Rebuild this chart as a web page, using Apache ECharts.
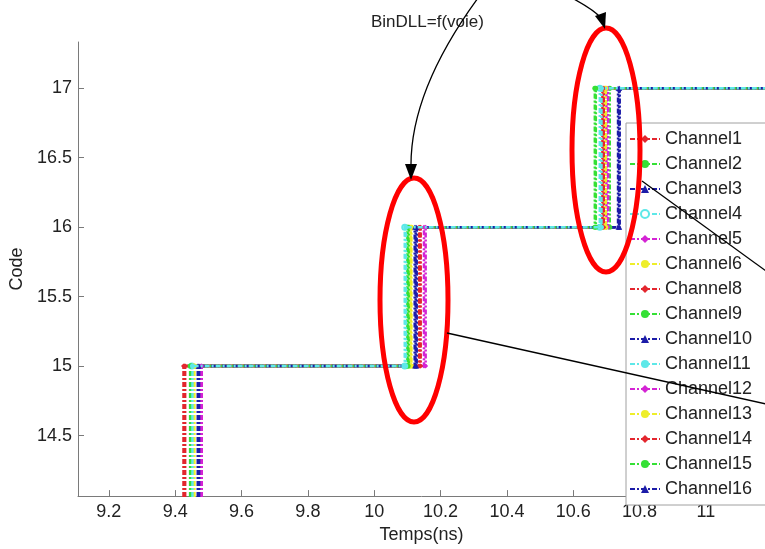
<!DOCTYPE html>
<html>
<head>
<meta charset="utf-8">
<script src="https://cdn.jsdelivr.net/npm/echarts@6/dist/echarts.min.js"></script>
<style>html,body{margin:0;padding:0;background:#fff;}#c{width:765px;height:549px;}</style>
</head>
<body>
<div id="c"></div>
<script>
// ---- data ----
const channels = ['Channel1','Channel2','Channel3','Channel4','Channel5','Channel6','Channel8','Channel9','Channel10','Channel11','Channel12','Channel13','Channel14','Channel15','Channel16'];
const colors   = ['#e3262e','#35e035','#1c1ca8','#5ee8e8','#d424d4','#eeee2a','#e3262e','#35e035','#1c1ca8','#5ee8e8','#d424d4','#eeee2a','#e3262e','#35e035','#1c1ca8'];
const symbols  = ['diamond','circle','triangle','emptyCircle','diamond','circle','diamond','circle','triangle','circle','diamond','circle','diamond','circle','triangle'];
// times (ns) at which each channel's code reaches 15, 16 and 17
const rise15 = [9.425, 9.445, 9.470, 9.450, 9.480, 9.455, 9.430, 9.448, 9.468, 9.452, 9.478, 9.458, 9.428, 9.446, 9.472];
const rise16 = [10.135, 10.105, 10.125, 10.092, 10.150, 10.112, 10.140, 10.100, 10.128, 10.095, 10.155, 10.110, 10.138, 10.102, 10.122];
const rise17 = [10.690, 10.665, 10.735, 10.680, 10.700, 10.695, 10.688, 10.710, 10.738, 10.685, 10.705, 10.698, 10.692, 10.668, 10.740];
const codeStart = 13.9;   // below the visible range
const codes = [15, 16, 17];
const timeEnd = 11.2;
const xTicks = [9.2, 9.4, 9.6, 9.8, 10, 10.2, 10.4, 10.6, 10.8, 11];
const yTicks = [14.5, 15, 15.5, 16, 16.5, 17];

const chart = echarts.init(document.getElementById('c'), null, {renderer: 'canvas'});
const font = 'Liberation Sans, Arial, sans-serif';

const series = channels.map((name, i) => ({
  name: name,
  type: 'line',
  z: name === 'Channel11' ? 4 : 2,
  data: [
    [rise15[i], codeStart], [rise15[i], codes[0]],
    [rise16[i], codes[0]], [rise16[i], codes[1]],
    [rise17[i], codes[1]], [rise17[i], codes[2]],
    [timeEnd, codes[2]]
  ],
  symbol: symbols[i],
  symbolSize: 5,
  showSymbol: true,
  clip: true,
  itemStyle: {color: colors[i]},
  lineStyle: {color: colors[i], width: 2.5, type: [5, 2, 2, 2]},
  emphasis: {disabled: true},
  animation: false
}));

chart.setOption({
  animation: false,
  backgroundColor: '#fff',
  title: {
    text: 'BinDLL=f(voie)',
    left: 366, top: 9,
    textStyle: {fontFamily: font, fontSize: 17, fontWeight: 'normal', color: '#222'}
  },
  grid: {left: 78, top: 42, right: 0, bottom: 50, containLabel: false},
  xAxis: {
    type: 'value', min: 9.107, max: 11.178,
    name: 'Temps(ns)', nameLocation: 'middle', nameGap: 27,
    nameTextStyle: {fontFamily: font, fontSize: 18, color: '#222'},
    axisLine: {show: true, onZero: false, lineStyle: {color: '#7a7a7a', width: 1}},
    axisTick: {show: true, inside: false, length: -6, customValues: xTicks, lineStyle: {color: '#7a7a7a'}},
    axisLabel: {customValues: xTicks, fontFamily: font, fontSize: 18, color: '#222', margin: 7,
      formatter: v => String(Math.round(v * 10) / 10)},
    splitLine: {show: false}
  },
  yAxis: {
    type: 'value', min: 14.064, max: 17.333,
    name: 'Code', nameLocation: 'middle', nameGap: 46, nameRotate: 90,
    nameTextStyle: {fontFamily: font, fontSize: 18, color: '#222'},
    axisLine: {show: true, onZero: false, lineStyle: {color: '#7a7a7a', width: 1}},
    axisTick: {show: true, inside: false, length: -6, customValues: yTicks, lineStyle: {color: '#7a7a7a'}},
    axisLabel: {customValues: yTicks, fontFamily: font, fontSize: 18, color: '#222', margin: 6,
      formatter: v => String(Math.round(v * 10) / 10)},
    splitLine: {show: false}
  },
  legend: {
    orient: 'vertical',
    left: 626, top: 123,
    padding: [7, 20, 7, 3],
    itemWidth: 30, itemHeight: 10, itemGap: 7,
    backgroundColor: '#fff',
    borderColor: '#a0a0a0', borderWidth: 1, borderRadius: 0,
    textStyle: {fontFamily: font, fontSize: 18, lineHeight: 18, color: '#222'},
    data: channels,
    selectedMode: false
  },
  series: series,
  graphic: [
    {type: 'ellipse', shape: {cx: 414, cy: 300, rx: 34, ry: 122}, style: {fill: 'none', stroke: '#f00', lineWidth: 5}, z: 100},
    {type: 'ellipse', shape: {cx: 606, cy: 150, rx: 34, ry: 122}, style: {fill: 'none', stroke: '#f00', lineWidth: 5}, z: 100},
    {type: 'bezierCurve', shape: {x1: 478, y1: -2, cpx1: 440, cpy1: 50, cpx2: 410, cpy2: 110, x2: 411, y2: 168}, style: {stroke: '#000', lineWidth: 1.3, fill: 'none'}, z: 100},
    {type: 'polygon', shape: {points: [[405, 164], [417, 164], [411, 180]]}, style: {fill: '#000'}, z: 100},
    {type: 'bezierCurve', shape: {x1: 572, y1: -2, cpx1: 585, cpy1: 5, cpx2: 596, cpy2: 12, x2: 601, y2: 18}, style: {stroke: '#000', lineWidth: 1.3, fill: 'none'}, z: 100},
    {type: 'polygon', shape: {points: [[595, 16], [606, 12], [605, 29]]}, style: {fill: '#000'}, z: 100},
    {type: 'line', shape: {x1: 642, y1: 181, x2: 766, y2: 271}, style: {stroke: '#000', lineWidth: 1.3}, z: 100},
    {type: 'line', shape: {x1: 447, y1: 333, x2: 766, y2: 404}, style: {stroke: '#000', lineWidth: 1.3}, z: 100}
  ]
});
</script>
</body>
</html>
